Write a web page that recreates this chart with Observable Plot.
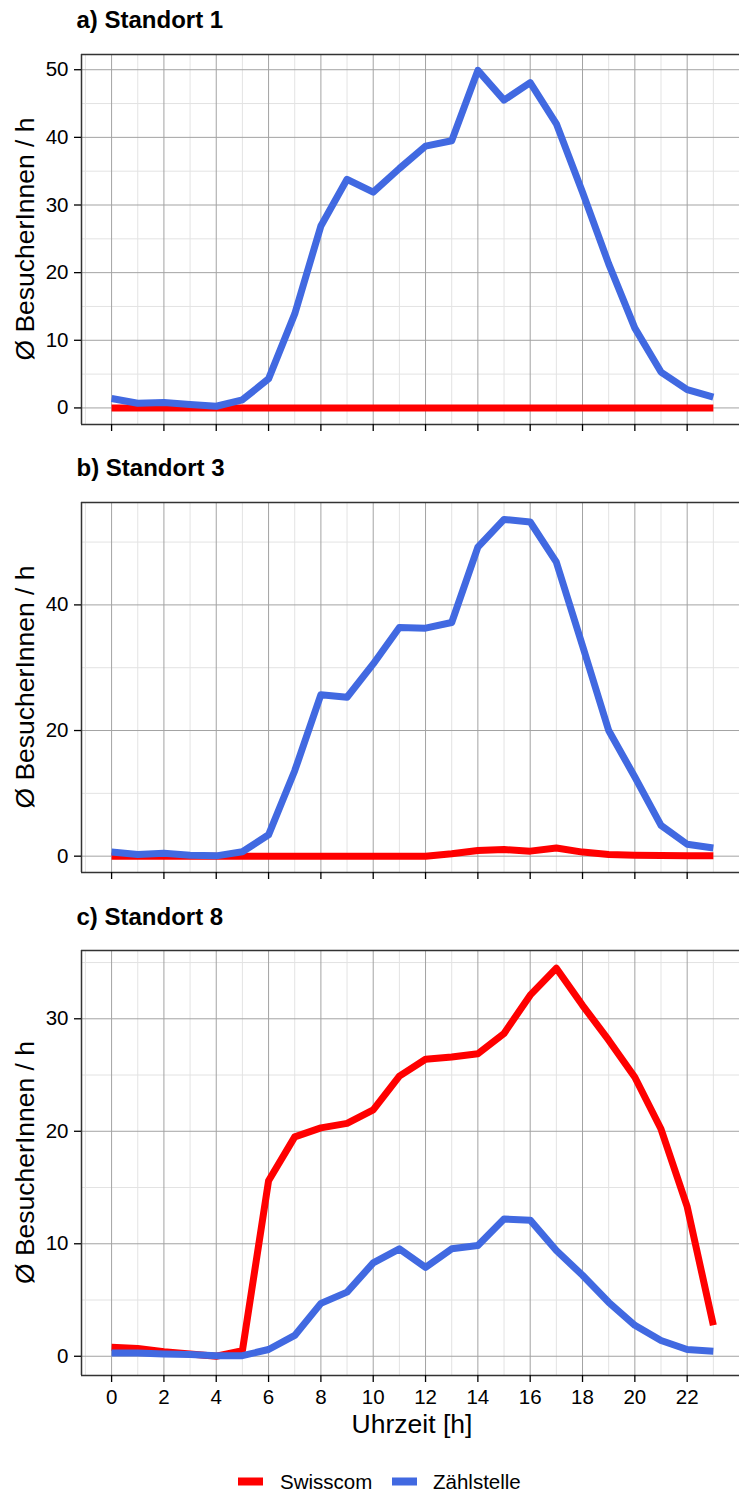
<!DOCTYPE html>
<html>
<head>
<meta charset="utf-8">
<script src="https://cdn.jsdelivr.net/npm/d3@7"></script>
<script src="https://cdn.jsdelivr.net/npm/@observablehq/plot@0.6"></script>
<style>
  html, body { margin: 0; padding: 0; background: #fff; overflow: hidden; }
  #root { position: relative; width: 739px; height: 1493px; background: #fff; }
  #root > svg { position: absolute; left: 0; }
  text { font-family: "Liberation Sans", Arial, Helvetica, sans-serif; }
</style>
</head>
<body>
<div id="root"></div>
<script>
// ---------- data ----------
const hours = [0, 1, 2, 3, 4, 5, 6, 7, 8, 9, 10, 11, 12, 13, 14, 15, 16, 17, 18, 19, 20, 21, 22, 23];
const series = ["Swisscom", "Zählstelle"];
const seriesColors = ["#FF0000", "#4169E1"];
const panelTitles = ["a) Standort 1", "b) Standort 3", "c) Standort 8"];
const yAxisTitle = "Ø BesucherInnen / h";
const xAxisTitle = "Uhrzeit [h]";

// Standort 1
const swisscom1 = [0, 0, 0, 0, 0, 0, 0, 0, 0, 0, 0, 0, 0, 0, 0, 0, 0, 0, 0, 0, 0, 0, 0, 0];
const zaehl1 = [1.4, 0.7, 0.8, 0.5, 0.25, 1.2, 4.3, 13.9, 26.9, 33.8, 31.9, 35.4, 38.7, 39.5, 49.9, 45.5, 48.1, 42.0, 31.9, 21.3, 11.8, 5.3, 2.7, 1.6];
// Standort 3
const swisscom3 = [0, 0, 0, 0, 0, 0, 0, 0, 0, 0, 0, 0, 0, 0.4, 0.9, 1.05, 0.8, 1.3, 0.65, 0.27, 0.15, 0.1, 0.05, 0.05];
const zaehl3 = [0.65, 0.25, 0.45, 0.15, 0.05, 0.7, 3.4, 13.6, 25.7, 25.3, 30.6, 36.4, 36.3, 37.2, 49.2, 53.6, 53.2, 46.8, 33.5, 20.0, 12.6, 4.9, 1.9, 1.3];
// Standort 8
const swisscom8 = [0.8, 0.7, 0.4, 0.2, 0.0, 0.5, 15.6, 19.5, 20.3, 20.7, 21.9, 24.9, 26.4, 26.6, 26.9, 28.7, 32.1, 34.5, 31.2, 28.1, 24.8, 20.2, 13.3, 2.75];
const zaehl8 = [0.3, 0.3, 0.2, 0.15, 0.05, 0.05, 0.6, 1.85, 4.7, 5.7, 8.3, 9.55, 7.9, 9.55, 9.85, 12.2, 12.1, 9.4, 7.2, 4.8, 2.75, 1.4, 0.6, 0.45];

// tick labels
const xMajorTicks = [0, 2, 4, 6, 8, 10, 12, 14, 16, 18, 20, 22];
const xMinorTicks = [-1, 1, 3, 5, 7, 9, 11, 13, 15, 17, 19, 21, 23];
const yMajor1 = [0, 10, 20, 30, 40, 50];
const yMinor1 = [5, 15, 25, 35, 45];
const yMajor3 = [0, 20, 40];
const yMinor3 = [10, 30, 50];
const yMajor8 = [0, 10, 20, 30];
const yMinor8 = [5, 15, 25, 35];

// ---------- drawing ----------
const W = 739;
const xDomain = [-1.15, 24.0];
const FONT = '"Liberation Sans", Arial, Helvetica, sans-serif';
const TICK_FS = 20.5;

function rowsFor(sw, zs) {
  const rows = [];
  hours.forEach((h, i) => rows.push({h, v: sw[i], s: series[0]}));
  hours.forEach((h, i) => rows.push({h, v: zs[i], s: series[1]}));
  return rows;
}

function panel({sw, zs, yDomain, yMajor, yMinor, showX, frameH, marginBottom}) {
  const marginTop = 10;
  return Plot.plot({
    width: W,
    height: marginTop + frameH + marginBottom,
    marginTop,
    marginBottom,
    marginLeft: 81,
    marginRight: 0,
    style: {fontFamily: FONT, fontSize: TICK_FS + "px", color: "#000", background: "transparent", overflow: "visible"},
    x: {domain: xDomain, label: null},
    y: {domain: yDomain, label: null},
    color: {type: "ordinal", domain: series, range: seriesColors},
    marks: [
      Plot.gridX(xMinorTicks, {stroke: "#e3e3e3", strokeOpacity: 1, strokeWidth: 1}),
      Plot.gridY(yMinor, {stroke: "#e3e3e3", strokeOpacity: 1, strokeWidth: 1}),
      Plot.gridX(xMajorTicks, {stroke: "#a3a3a3", strokeOpacity: 1, strokeWidth: 1}),
      Plot.gridY(yMajor, {stroke: "#a3a3a3", strokeOpacity: 1, strokeWidth: 1}),
      Plot.line(rowsFor(sw, zs), {x: "h", y: "v", z: "s", stroke: "s", strokeWidth: 7, strokeLinecap: "butt", strokeLinejoin: "round"}),
      Plot.ruleX([xDomain[0]], {stroke: "#333", strokeWidth: 1.5}),
      Plot.ruleY(yDomain, {stroke: "#333", strokeWidth: 1.5}),
      Plot.axisX(xMajorTicks, {tickSize: 7, tickPadding: 6.5, strokeWidth: 1.3, label: null, fontSize: TICK_FS,
        tickFormat: showX ? (d => String(d)) : (() => "")}),
      Plot.axisY(yMajor, {tickSize: 7, tickPadding: 6, strokeWidth: 1.3, label: null, fontSize: TICK_FS})
    ]
  });
}

const root = document.getElementById("root");
const panels = [
  {top: 44, sw: swisscom1, zs: zaehl1, yDomain: [-2.45, 52.25], yMajor: yMajor1, yMinor: yMinor1, showX: false, frameH: 370, marginBottom: 10},
  {top: 492, sw: swisscom3, zs: zaehl3, yDomain: [-2.6, 56.3], yMajor: yMajor3, yMinor: yMinor3, showX: false, frameH: 370, marginBottom: 10},
  {top: 940, sw: swisscom8, zs: zaehl8, yDomain: [-1.71, 36.07], yMajor: yMajor8, yMinor: yMinor8, showX: true, frameH: 425, marginBottom: 40}
];
panels.forEach(p => {
  const svg = panel(p);
  svg.style.top = p.top + "px";
  root.appendChild(svg);
});

// ---------- titles, axis titles, legend (overlay) ----------
const ns = "http://www.w3.org/2000/svg";
const ov = document.createElementNS(ns, "svg");
ov.setAttribute("width", W);
ov.setAttribute("height", 1493);
ov.style.top = "0px";
ov.style.pointerEvents = "none";
root.appendChild(ov);

function txt(str, attrs) {
  const t = document.createElementNS(ns, "text");
  for (const k in attrs) t.setAttribute(k, attrs[k]);
  t.setAttribute("font-family", FONT);
  t.textContent = str;
  ov.appendChild(t);
  return t;
}

const titleBaselines = [28, 476, 925];
panelTitles.forEach((t, i) => txt(t, {x: 76.5, y: titleBaselines[i], "font-size": 24, "font-weight": "bold", fill: "#000"}));

const frameCenters = [239, 687, 1162.5];
frameCenters.forEach(c => txt(yAxisTitle, {
  x: 0, y: 0, "font-size": 26.5, fill: "#000", "text-anchor": "middle",
  transform: `translate(33.5,${c}) rotate(-90)`
}));

txt(xAxisTitle, {x: 412, y: 1433, "font-size": 26.5, fill: "#000", "text-anchor": "middle"});

// legend
const legendKeyX = [238, 392];
const legendTextX = [280, 433];
series.forEach((s, i) => {
  const r = document.createElementNS(ns, "rect");
  r.setAttribute("x", legendKeyX[i]);
  r.setAttribute("y", 1477.5);
  r.setAttribute("width", 25);
  r.setAttribute("height", 8);
  r.setAttribute("fill", seriesColors[i]);
  ov.appendChild(r);
  txt(s, {x: legendTextX[i], y: 1489, "font-size": 20.5, fill: "#000"});
});
</script>
</body>
</html>
